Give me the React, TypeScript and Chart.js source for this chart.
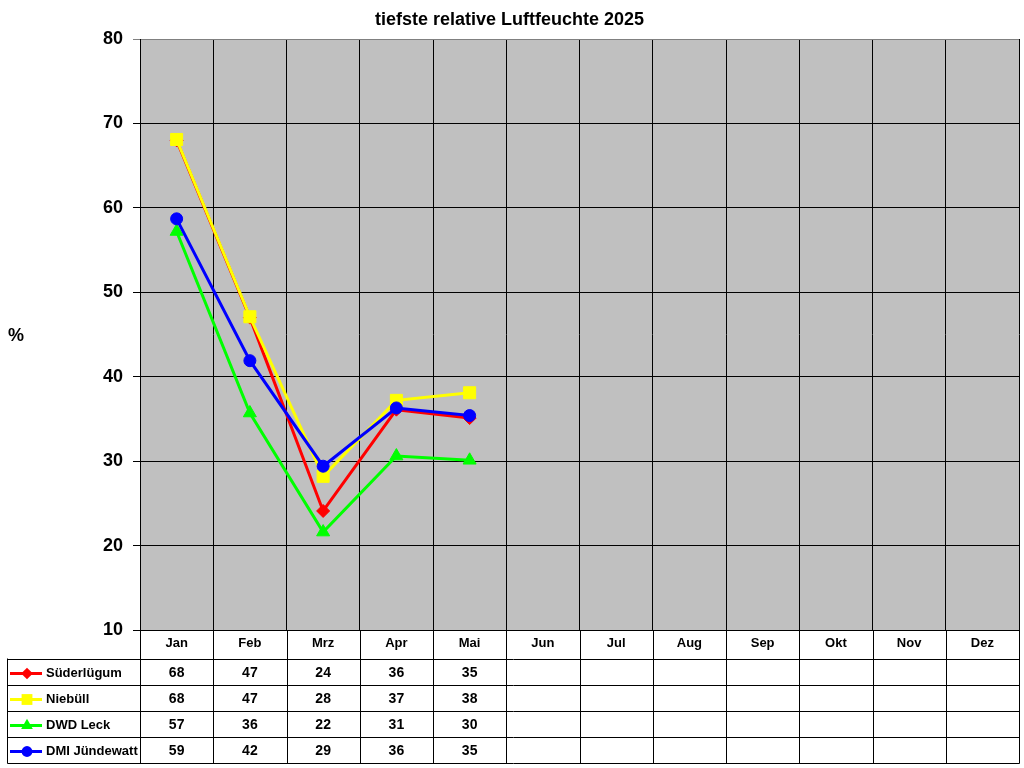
import { useEffect, useRef } from "react";
import { Chart, registerables } from "chart.js";

Chart.register(...registerables);

const months = ["Jan", "Feb", "Mrz", "Apr", "Mai", "Jun", "Jul", "Aug", "Sep", "Okt", "Nov", "Dez"];

const suederluegum = [68, 47, 24.1, 36.1, 35.1];
const niebuell = [68.1, 47.1, 28.2, 37.2, 38.1];
const dwdLeck = [57.2, 35.7, 21.6, 30.6, 30.1];
const dmiJuendewatt = [58.7, 41.9, 29.4, 36.3, 35.4];

const FONT = "'Liberation Sans', Arial, sans-serif";

const series = [
  { label: "Süderlügum", data: suederluegum, color: "#FF0000", style: "rectRot", radius: 6.5, order: 4 },
  { label: "Niebüll", data: niebuell, color: "#FFFF00", style: "rect", radius: 8.5, order: 3 },
  { label: "DWD Leck", data: dwdLeck, color: "#00FF00", style: "triangle", radius: 7.5, order: 2 },
  { label: "DMI Jündewatt", data: dmiJuendewatt, color: "#0000FF", style: "circle", radius: 6, order: 1 },
];

function drawMarker(ctx: CanvasRenderingContext2D, style: string, r: number, cx: number, cy: number) {
  ctx.beginPath();
  if (style === "rectRot") {
    ctx.moveTo(cx - r, cy);
    ctx.lineTo(cx, cy - r);
    ctx.lineTo(cx + r, cy);
    ctx.lineTo(cx, cy + r);
  } else if (style === "rect") {
    const h = r * Math.SQRT1_2;
    ctx.rect(cx - h, cy - h, 2 * h, 2 * h);
  } else if (style === "triangle") {
    for (let k = 0; k < 3; k++) {
      const a = (k * 2 * Math.PI) / 3;
      const px = cx + Math.sin(a) * r;
      const py = cy - Math.cos(a) * r;
      if (k === 0) ctx.moveTo(px, py);
      else ctx.lineTo(px, py);
    }
  } else {
    ctx.arc(cx, cy, r, 0, Math.PI * 2);
  }
  ctx.closePath();
  ctx.fill();
}

// plot background, "%" label and the data table under the chart
const tablePlugin = {
  id: "dataTable",
  beforeDraw(chart: any) {
    const { ctx, chartArea } = chart;
    ctx.save();
    ctx.fillStyle = "#C0C0C0";
    ctx.fillRect(chartArea.left, chartArea.top, chartArea.right - chartArea.left, chartArea.bottom - chartArea.top);
    ctx.restore();
  },
  afterDraw(chart: any) {
    const { ctx, chartArea } = chart;
    const x = chart.scales.x;
    const step = x.getPixelForValue(1) - x.getPixelForValue(0);
    const edges: number[] = [];
    for (let i = 0; i <= months.length; i++) edges.push(Math.round(x.getPixelForValue(i) - step / 2) + 0.5);
    const bottom = Math.round(chartArea.bottom) + 0.5;
    const headerH = 28;
    const rowH = 26.2;
    const tableLeft = 7.5;
    const y0 = bottom + headerH;
    const rowY = (r: number) => Math.round(y0 + r * rowH) + 0.5;
    const y1 = rowY(series.length);

    ctx.save();
    ctx.strokeStyle = "#000";
    ctx.lineWidth = 1;
    ctx.beginPath();
    edges.forEach((ex) => {
      ctx.moveTo(ex, bottom);
      ctx.lineTo(ex, y1);
    });
    ctx.moveTo(tableLeft, y0);
    ctx.lineTo(tableLeft, y1);
    for (let r = 0; r <= series.length; r++) {
      ctx.moveTo(tableLeft, rowY(r));
      ctx.lineTo(edges[edges.length - 1], rowY(r));
    }
    ctx.stroke();

    ctx.textBaseline = "middle";
    series.forEach((s, r) => {
      const cy = (rowY(r) + rowY(r + 1)) / 2 + 1;
      // legend key
      ctx.strokeStyle = s.color;
      ctx.lineWidth = 3;
      ctx.beginPath();
      ctx.moveTo(10, cy);
      ctx.lineTo(42, cy);
      ctx.stroke();
      ctx.fillStyle = s.color;
      drawMarker(ctx, s.style, s.radius * 0.9, 27, cy);
      ctx.fillStyle = "#000";
      ctx.textAlign = "left";
      ctx.font = `bold 13px ${FONT}`;
      ctx.fillText(s.label, 46, cy);
      ctx.textAlign = "center";
      ctx.font = `bold 14px ${FONT}`;
      s.data.forEach((v, i) => {
        ctx.fillText(String(Math.round(v)), x.getPixelForValue(i), cy);
      });
    });

    ctx.font = `bold 18px ${FONT}`;
    ctx.textAlign = "center";
    ctx.fillText("%", 16, 336);
    ctx.restore();
  },
};

export default function App() {
  const chartRef = useRef<HTMLCanvasElement>(null);
  const chartInstanceRef = useRef<Chart | null>(null);

  useEffect(() => {
    if (!chartRef.current) return;
    const ctx = chartRef.current.getContext("2d");
    if (!ctx) return;
    if (chartInstanceRef.current) chartInstanceRef.current.destroy();

    chartInstanceRef.current = new Chart(ctx, {
      type: "line",
      data: {
        labels: months,
        datasets: series.map((s) => ({
          label: s.label,
          data: s.data,
          borderColor: s.color,
          backgroundColor: s.color,
          borderWidth: 3,
          pointStyle: s.style as any,
          pointRadius: s.radius,
          pointBorderWidth: 1,
          pointBackgroundColor: s.color,
          pointBorderColor: s.color,
          tension: 0,
          order: s.order,
        })),
      },
      options: {
        animation: false,
        responsive: false,
        devicePixelRatio: 1,
        layout: { autoPadding: false, padding: { left: 0, right: 5, top: 0, bottom: 0 } },
        plugins: {
          legend: { display: false },
          tooltip: { enabled: false },
          title: {
            display: true,
            text: "tiefste relative Luftfeuchte 2025",
            color: "#000",
            font: { family: FONT, size: 18, weight: "bold" },
            padding: { top: 9, bottom: 8.4 },
          },
        },
        scales: {
          x: {
            offset: true,
            grid: { color: "#000", offset: true, drawTicks: false },
            border: { color: "#000" },
            ticks: { color: "#000", font: { family: FONT, size: 13, weight: "bold" }, padding: 6, maxRotation: 0 },
            afterFit: (s: any) => {
              s.height = 138;
              s.paddingLeft = 0;
              s.paddingRight = 0;
            },
          },
          y: {
            min: 10,
            max: 80,
            grid: {
              color: (c: any) => (c.tick && c.tick.value === 80 ? "#808080" : "#000"),
              tickLength: 7,
              drawTicks: true,
            },
            border: { color: "#000" },
            ticks: { stepSize: 10, color: "#000", font: { family: FONT, size: 18, weight: "bold" }, padding: 10 },
            afterFit: (s: any) => {
              s.width = 140;
            },
          },
        },
      },
      plugins: [tablePlugin],
    });

    return () => {
      if (chartInstanceRef.current) {
        chartInstanceRef.current.destroy();
        chartInstanceRef.current = null;
      }
    };
  }, []);

  return (
    <div style={{ position: "fixed", left: 0, top: 0, width: 1024, height: 768, background: "#fff" }}>
      <canvas ref={chartRef} width={1024} height={768} style={{ width: 1024, height: 768, display: "block" }} />
    </div>
  );
}
